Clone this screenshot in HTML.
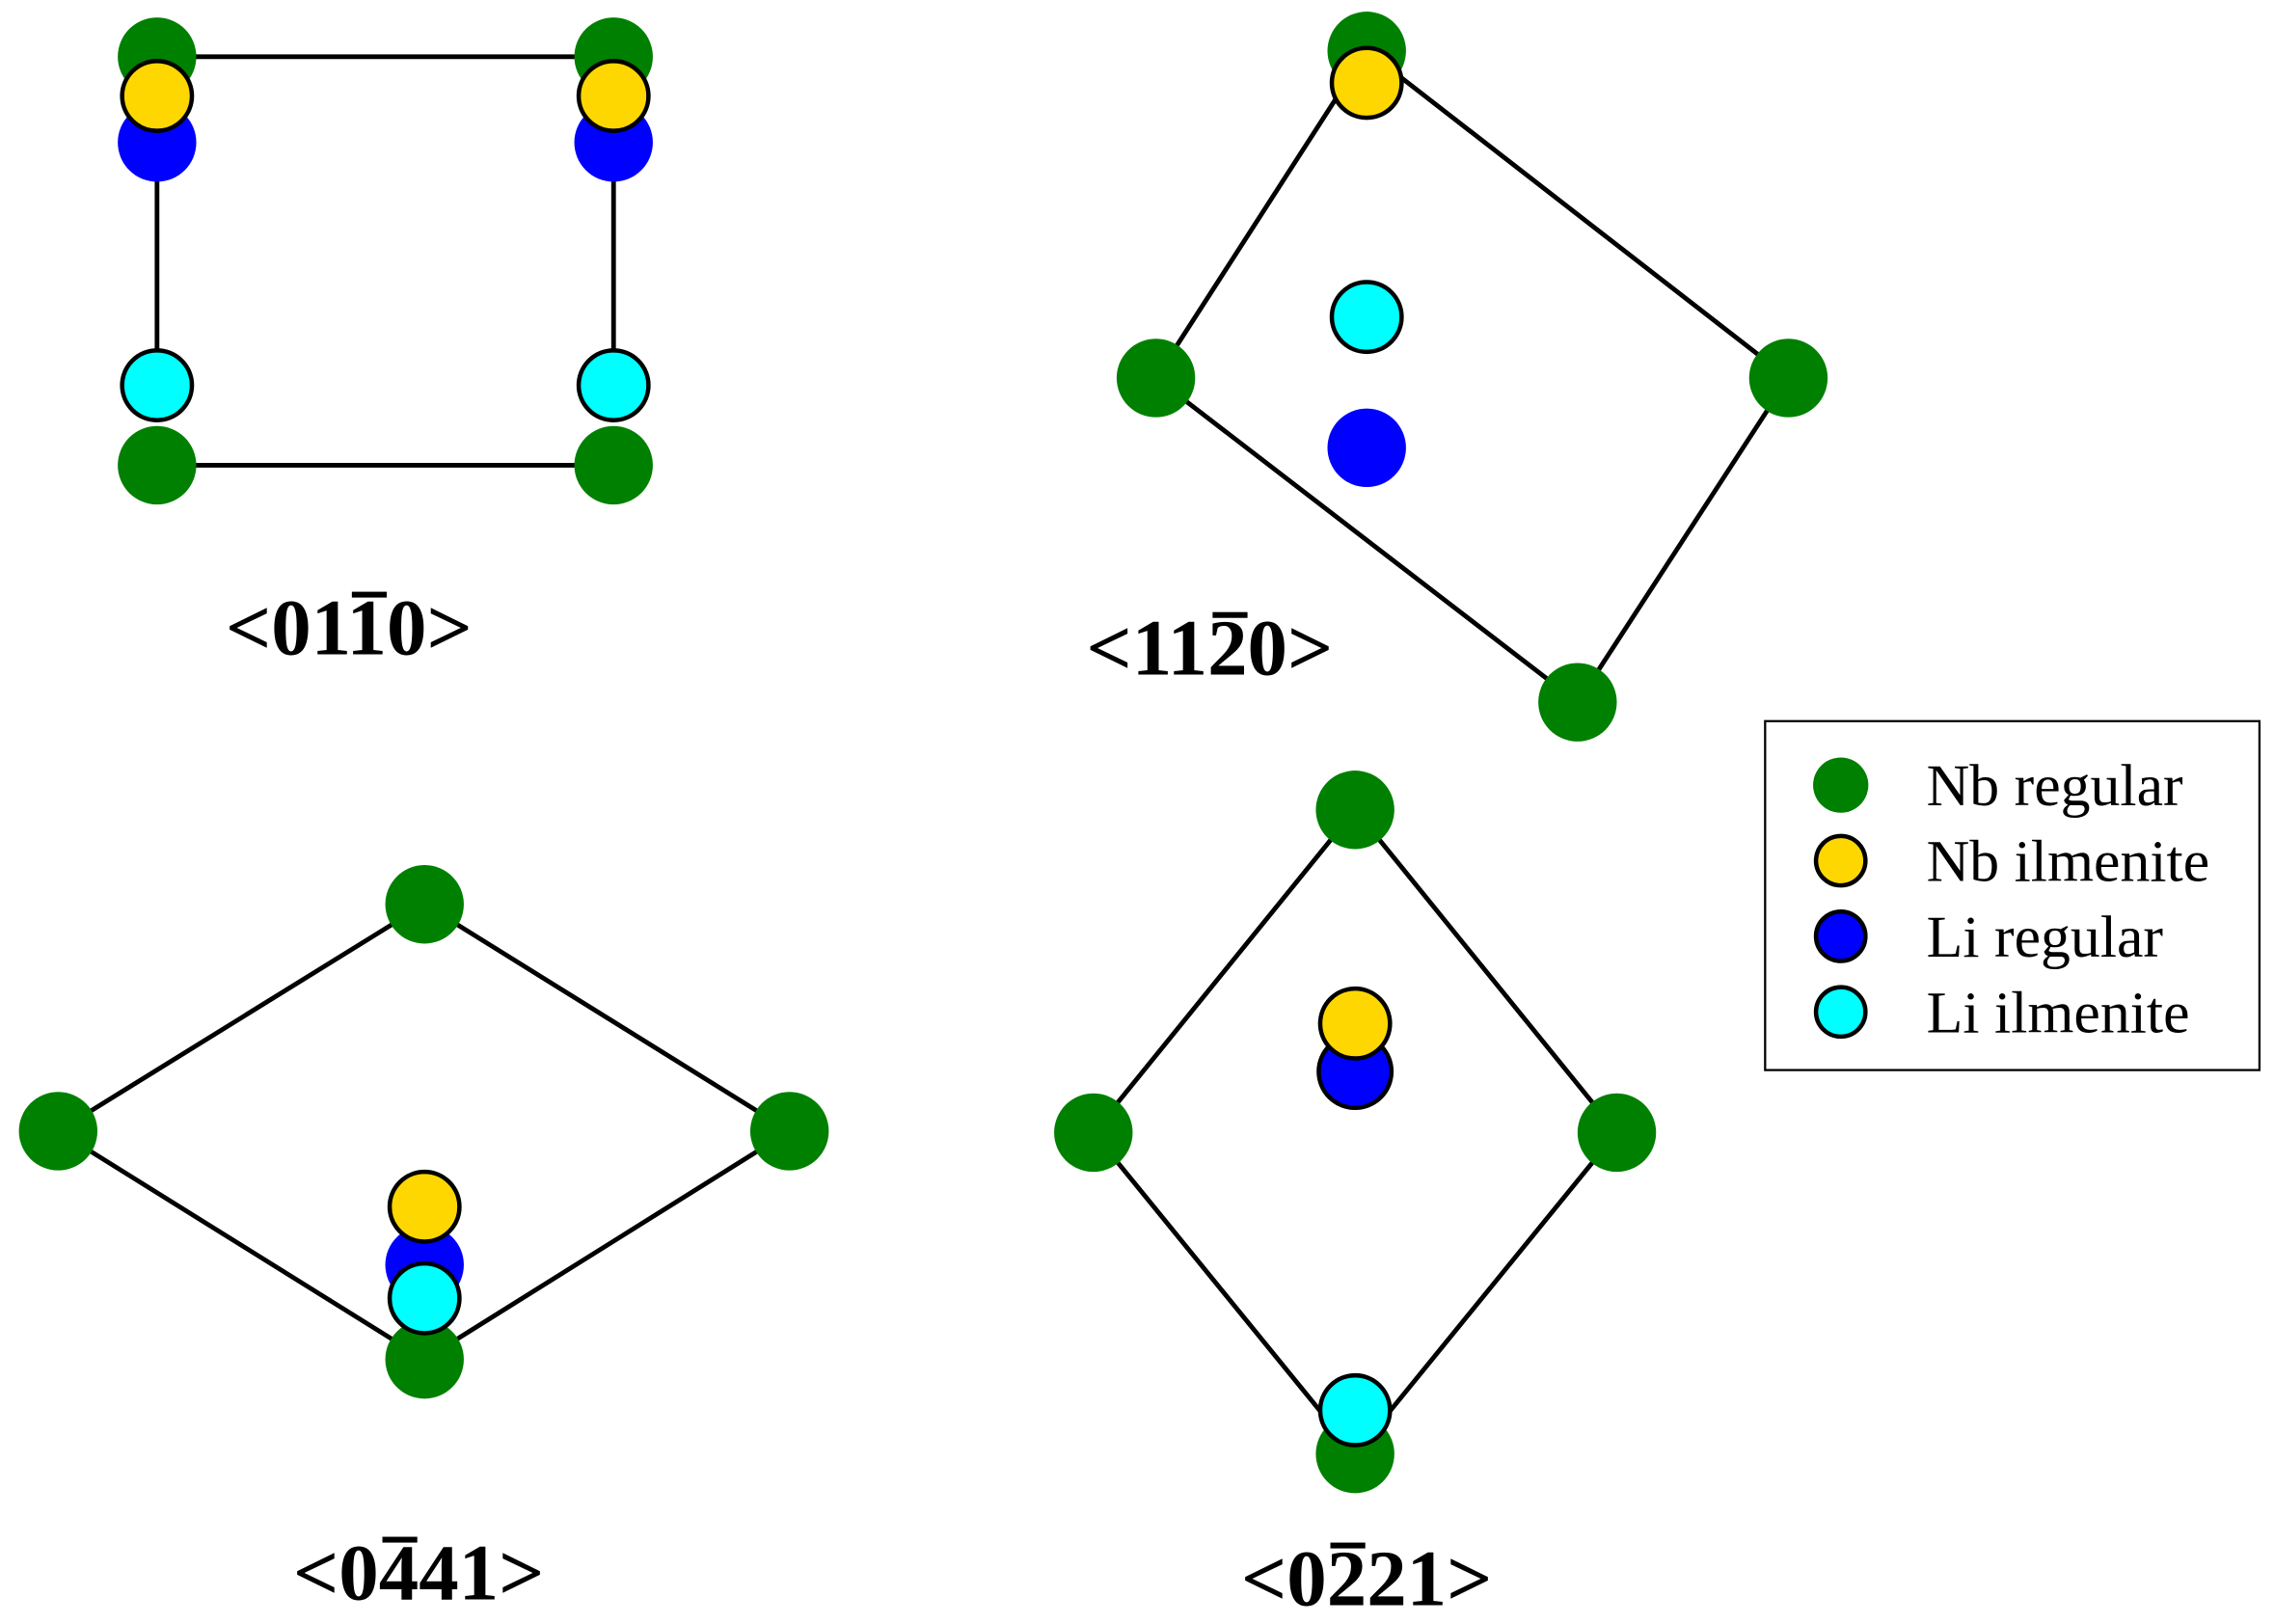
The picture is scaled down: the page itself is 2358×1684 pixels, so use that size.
<!DOCTYPE html>
<html><head><style>html,body{margin:0;padding:0;background:#fff}svg{display:block}</style></head>
<body>
<svg width="2358" height="1684" viewBox="0 0 1564 1117" preserveAspectRatio="none" xmlns="http://www.w3.org/2000/svg">
<g stroke="#000" stroke-width="3.2" fill="none">
<line x1="108" y1="39" x2="422" y2="39"/><line x1="108" y1="320" x2="422" y2="320"/>
<line x1="108" y1="98" x2="108" y2="265"/><line x1="422" y1="98" x2="422" y2="265"/>
<polygon points="940,35 1230,260 1085,483 795,260"/>
<polygon points="292,622 543,778 292,935 40,778"/>
<polygon points="932,557 1112,779 932,1000 752,779"/>
</g>
<g fill="#008000">
<circle cx="108" cy="39" r="27"/><circle cx="422" cy="39" r="27"/>
<circle cx="108" cy="320" r="27"/><circle cx="422" cy="320" r="27"/>
<circle cx="940" cy="35" r="27"/><circle cx="1230" cy="260" r="27"/><circle cx="1085" cy="483" r="27"/><circle cx="795" cy="260" r="27"/>
<circle cx="292" cy="622" r="27"/><circle cx="543" cy="778" r="27"/><circle cx="292" cy="935" r="27"/><circle cx="40" cy="778" r="27"/>
<circle cx="932" cy="557" r="27"/><circle cx="1112" cy="779" r="27"/><circle cx="932" cy="1000" r="27"/><circle cx="752" cy="779" r="27"/>
</g>
<g fill="#0000ff">
<circle cx="108" cy="98" r="27"/><circle cx="422" cy="98" r="27"/>
<circle cx="940" cy="308" r="27"/>
<circle cx="292" cy="870" r="27"/>
<circle cx="932" cy="737" r="25" stroke="#000" stroke-width="3"/>
</g>
<g stroke="#000" stroke-width="3">
<circle cx="108" cy="66" r="24" fill="#ffd700"/><circle cx="422" cy="66" r="24" fill="#ffd700"/>
<circle cx="940" cy="57" r="24" fill="#ffd700"/>
<circle cx="292" cy="830" r="24" fill="#ffd700"/>
<circle cx="932" cy="704" r="24" fill="#ffd700"/>
<circle cx="108" cy="265" r="24" fill="#00ffff"/><circle cx="422" cy="265" r="24" fill="#00ffff"/>
<circle cx="940" cy="218" r="24" fill="#00ffff"/>
<circle cx="292" cy="893" r="24" fill="#00ffff"/>
<circle cx="932" cy="970" r="24" fill="#00ffff"/>
</g>
<g font-family="Liberation Serif, serif" font-weight="bold" font-size="55" text-anchor="middle" fill="#000">
<text x="240" y="450">&lt;0110&gt;</text>
<text x="832" y="464">&lt;1120&gt;</text>
<text x="288" y="1100">&lt;0441&gt;</text>
<text x="940" y="1104">&lt;0221&gt;</text>
</g>
<g fill="#000">
<rect x="242" y="407" width="24" height="4"/>
<rect x="834" y="421" width="24" height="4"/>
<rect x="263" y="1057" width="24" height="4"/>
<rect x="915" y="1061" width="24" height="4"/>
</g>
<rect x="1214" y="496" width="340" height="240" fill="#fff" stroke="#000" stroke-width="1.5"/>
<circle cx="1266" cy="540" r="19" fill="#008000"/>
<circle cx="1266" cy="592" r="17" fill="#ffd700" stroke="#000" stroke-width="3"/>
<circle cx="1266" cy="644" r="17" fill="#0000ff" stroke="#000" stroke-width="3"/>
<circle cx="1266" cy="696" r="17" fill="#00ffff" stroke="#000" stroke-width="3"/>
<g font-family="Liberation Serif, serif" font-size="41" fill="#000">
<text x="1325" y="554">Nb regular</text>
<text x="1325" y="606">Nb ilmenite</text>
<text x="1325" y="658">Li regular</text>
<text x="1325" y="710">Li ilmenite</text>
</g>
</svg>
</body></html>
